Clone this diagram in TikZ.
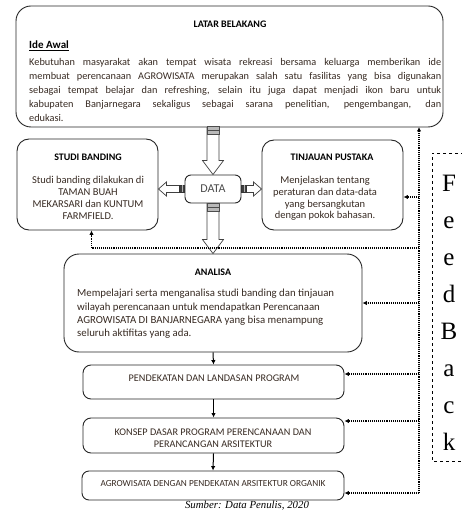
\documentclass[tikz,border=0pt]{standalone}
\usepackage{fontspec}
\setmainfont{Carlito}
\newfontfamily\seriff{Liberation Serif}
\usetikzlibrary{calc,arrows.meta}
\definecolor{txt}{RGB}{55,42,34}
\newcommand\jline[1]{\makebox[412pt][s]{\spaceskip=0pt\xspaceskip=0pt #1}}
\begin{document}
\begin{tikzpicture}[x=1pt,y=-1pt,
 box/.style={draw=black!85,line width=0.9pt,rounded corners=#1,inner sep=0pt},
 box/.default=8pt,
 ttl/.style={font=\fontsize{10}{12}\selectfont\bfseries,inner sep=0pt},
 body/.style={text=txt,inner sep=0pt},
 fb/.style={densely dotted,line width=1.1pt,-{Latex[length=4.5pt,width=4.5pt]}},
 flow/.style={line width=1pt,-{Latex[length=4.5pt,width=4.5pt]}},
 harrow/.style={draw=black!75,line width=0.7pt,fill=white},
 stub/.style={fill=gray!55,draw=black!70,line width=0.4pt},
 dstub/.style={fill=black!75,draw=black!80,line width=0.4pt}]
\useasboundingbox (0,0) rectangle (461,510);

% ---------- boxes ----------
\node[box=15pt,minimum width=427pt,minimum height=121pt] (latar) at (229.5,66.5) {};
\node[ttl] (latarT) at (230,24) {LATAR BELAKANG};
\node[inner sep=0pt,anchor=west,font=\fontsize{11}{13}\selectfont\bfseries] (ide) at (29,46) {\underline{Ide Awal}};
\node[body,anchor=north west,text width=412pt,align=left,font=\fontsize{10.3}{14}\selectfont] (latarP) at (29,58.5)
 {\jline{Kebutuhan masyarakat akan tempat wisata rekreasi bersama keluarga memberikan ide}\\
  \jline{membuat perencanaan AGROWISATA merupakan salah satu fasilitas yang bisa digunakan}\\
  \jline{sebagai tempat belajar dan refreshing, selain itu juga dapat menjadi ikon baru untuk}\\
  \jline{kabupaten Banjarnegara sekaligus sebagai sarana penelitian, pengembangan, dan}\\
  edukasi.};

\node[box=12pt,minimum width=141pt,minimum height=91pt] (studi) at (87.5,184.5) {};
\node[ttl] (studiT) at (88,157) {STUDI BANDING};
\node[body,align=center,font=\fontsize{10.5}{11.8}\selectfont] (studiP) at (88,198)
 {Studi banding dilakukan di\\TAMAN BUAH\\MEKARSARI dan KUNTUM\\FARMFIELD.};

\node[box=12pt,minimum width=141pt,minimum height=90pt] (tin) at (332.5,185) {};
\node[ttl] (tinT) at (332,157) {TINJAUAN PUSTAKA};
\node[body,align=center,font=\fontsize{10.5}{11.8}\selectfont] (tinP) at (325,198.5)
 {Menjelaskan tentang\\peraturan dan data-data\\yang bersangkutan\\dengan pokok bahasan.};

\node[box=6pt,minimum width=56pt,minimum height=28pt,font=\fontsize{12}{14}\selectfont,text=black!70] (data) at (213,189) {DATA};

\node[box=15pt,minimum width=298pt,minimum height=98pt] (analisa) at (213,303) {};
\node[ttl] (analisaT) at (213,272) {ANALISA};
\node[body,anchor=west,align=left,font=\fontsize{10.8}{13.4}\selectfont] (analisaP) at (77,314)
 {Mempelajari serta menganalisa studi banding dan tinjauan\\
  wilayah perencanaan untuk mendapatkan Perencanaan\\
  AGROWISATA DI BANJARNEGARA yang bisa menampung\\
  seluruh aktifitas yang ada.};

\node[box=8pt,minimum width=261pt,minimum height=34pt] (pend) at (213.5,382) {};
\node[body,font=\fontsize{10.2}{12}\selectfont] (pendT) at (214,378) {PENDEKATAN DAN LANDASAN PROGRAM};

\node[box=8pt,minimum width=261pt,minimum height=35pt] (konsep) at (213.5,435.5) {};
\node[body,align=center,font=\fontsize{10.2}{12}\selectfont] (konsepT) at (213,438.5)
 {KONSEP DASAR PROGRAM PERENCANAAN DAN\\PERANCANGAN ARSITEKTUR};

\node[box=7pt,minimum width=262pt,minimum height=29pt] (agro) at (213,485.5) {};
\node[body,font=\fontsize{9.3}{11}\selectfont] (agroT) at (213,484) {AGROWISATA DENGAN PENDEKATAN ARSITEKTUR ORGANIK};

% ---------- hollow arrows ----------
\coordinate (s1) at (latar.south -| data.north);
\coordinate (e1) at (data.north);
\draw[harrow] ($(s1)+(-6,0)$) -- ($(e1)+(-6,-14)$) -- ($(e1)+(-10.5,-14)$) -- (e1) -- ($(e1)+(10.5,-14)$) -- ($(e1)+(6,-14)$) -- ($(s1)+(6,0)$) -- cycle;
\draw[stub] ($(s1)+(-6,-1)$) rectangle ($(s1)+(6,7)$);
\draw[black!70,line width=0.4pt] ($(s1)+(-6,2.5)$) -- ($(s1)+(6,2.5)$);

\coordinate (s2) at (data.south);
\coordinate (e2) at (data.south |- analisa.north);
\draw[harrow] ($(s2)+(-6,0)$) -- ($(e2)+(-6,-14)$) -- ($(e2)+(-10.5,-14)$) -- (e2) -- ($(e2)+(10.5,-14)$) -- ($(e2)+(6,-14)$) -- ($(s2)+(6,0)$) -- cycle;
\draw[stub] ($(s2)+(-6,0)$) rectangle ($(s2)+(6,8)$);
\draw[black!70,line width=0.4pt] ($(s2)+(-6,3.5)$) -- ($(s2)+(6,3.5)$);

\coordinate (s3) at (data.west);
\coordinate (e3) at (data.west -| studi.east);
\draw[harrow] ($(s3)+(0,-3.5)$) -- ($(e3)+(8,-3.5)$) -- ($(e3)+(8,-7)$) -- (e3) -- ($(e3)+(8,7)$) -- ($(e3)+(8,3.5)$) -- ($(s3)+(0,3.5)$) -- cycle;
\draw[dstub] ($(s3)+(-5,-3.5)$) rectangle ($(s3)+(0,3.5)$);
\draw[gray!60,line width=0.5pt] ($(s3)+(-2.5,-3.5)$) -- ($(s3)+(-2.5,3.5)$);

\coordinate (s4) at (data.east);
\coordinate (e4) at (data.east -| tin.west);
\draw[harrow] ($(s4)+(0,-3.5)$) -- ($(e4)+(-8,-3.5)$) -- ($(e4)+(-8,-7)$) -- (e4) -- ($(e4)+(-8,7)$) -- ($(e4)+(-8,3.5)$) -- ($(s4)+(0,3.5)$) -- cycle;
\draw[dstub] ($(s4)+(0,-3.5)$) rectangle ($(s4)+(5,3.5)$);
\draw[gray!60,line width=0.5pt] ($(s4)+(2.5,-3.5)$) -- ($(s4)+(2.5,3.5)$);

% ---------- flow arrows ----------
\draw[flow] (analisa.south) -- (pend.north);
\draw[flow] (pend.south) -- (konsep.north);
\draw[flow] (konsep.south) -- (agro.north);

% ---------- feedback ----------
\coordinate (ftop) at (419,127);
\coordinate (fbot) at (419,493);
\coordinate (f1) at (419,197);
\coordinate (f2) at (419,248);
\coordinate (f3) at (419,303);
\coordinate (f4) at (419,374);
\coordinate (f5) at (419,421);
\draw[fb] (fbot) -- (ftop);
\draw[fb] (f1) -- (f1 -| tin.east);
\draw[fb] (f2) -| ([xshift=4pt]studi.south);
\draw[fb] (f3) -- (f3 -| analisa.east);
\draw[fb] (f4) -- (f4 -| pend.east);
\draw[fb] (f5) -- (f5 -| konsep.east);
\draw[fb] (fbot) -- (fbot -| agro.east);

\draw[dashed,line width=0.7pt] (470,153) -- (432,153) -- (432,461) -- (470,461);
\node[font=\seriff\fontsize{25}{37}\selectfont,anchor=base,align=center,inner sep=0pt] (fbtext) at (449,450)
 {F\\e\\e\\d\\B\\a\\c\\k};

\node[font=\seriff\itshape\fontsize{10.8}{13}\selectfont,anchor=base,inner sep=0pt] (src) at (247,508.5) {Sumber: Data Penulis, 2020};
\end{tikzpicture}
\end{document}
